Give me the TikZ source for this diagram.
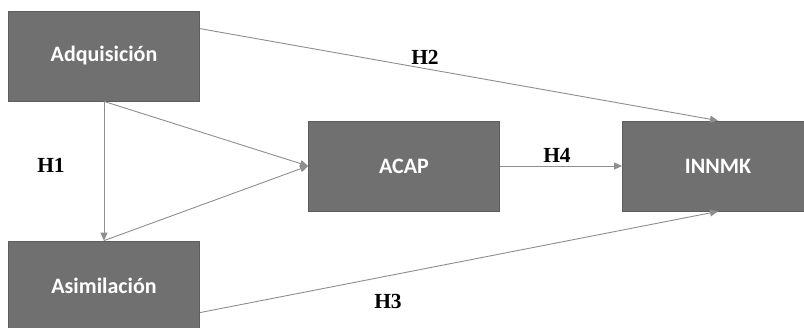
\documentclass[tikz,border=0pt]{standalone}
\usepackage{fontspec}
\setmainfont{Liberation Serif}
\newfontfamily\boxfont{Carlito}
\usetikzlibrary{arrows.meta}
\definecolor{boxfill}{HTML}{707070}
\definecolor{boxline}{HTML}{5E5E5E}
\definecolor{linkgray}{HTML}{8E8E8E}
\begin{document}
\begin{tikzpicture}[x=1pt,y=-1pt,
  construct/.style={rectangle, draw=boxline, fill=boxfill, line width=0.8pt,
    minimum width=191pt, minimum height=90pt, inner sep=0pt,
    text=white, font=\boxfont\bfseries\fontsize{22}{24}\selectfont},
  link/.style={draw=linkgray, line width=0.9pt,
    -{Triangle[length=8pt,width=7pt]}},
  hyp/.style={font=\bfseries\fontsize{21.5}{24}\selectfont, text=black}]
  \useasboundingbox (0,0) rectangle (804,327);
  \fill[white] (0,0) rectangle (804,327);

  % constructs
  \node[construct] (adq) at (104,56) {Adquisición};
  \node[construct] (asim) at (104,286) {Asimilación};
  \node[construct] (acap) at (404,166) {ACAP};
  \node[construct] (innmk) at (718,166) {INNMK};

  % attachment points on the box edges
  \coordinate (adqout) at ([yshift=-18pt]adq.north east);
  \coordinate (asimout) at ([yshift=-72pt]asim.north east);

  % paths
  \draw[link] (adq.south) -- (asim.north);
  \draw[link] (adq.south) -- (acap.west);
  \draw[link] (asim.north) -- (acap.west);
  \draw[link] (adqout) -- (innmk.north);
  \draw[link] (acap.east) -- (innmk.west);
  \draw[link] (asimout) -- (innmk.south);

  % hypothesis labels
  \node[hyp] (h1) at (51,165) {H1};
  \node[hyp] (h2) at (425,57) {H2};
  \node[hyp] (h3) at (388,301) {H3};
  \node[hyp] (h4) at (557,155) {H4};
\end{tikzpicture}
\end{document}
